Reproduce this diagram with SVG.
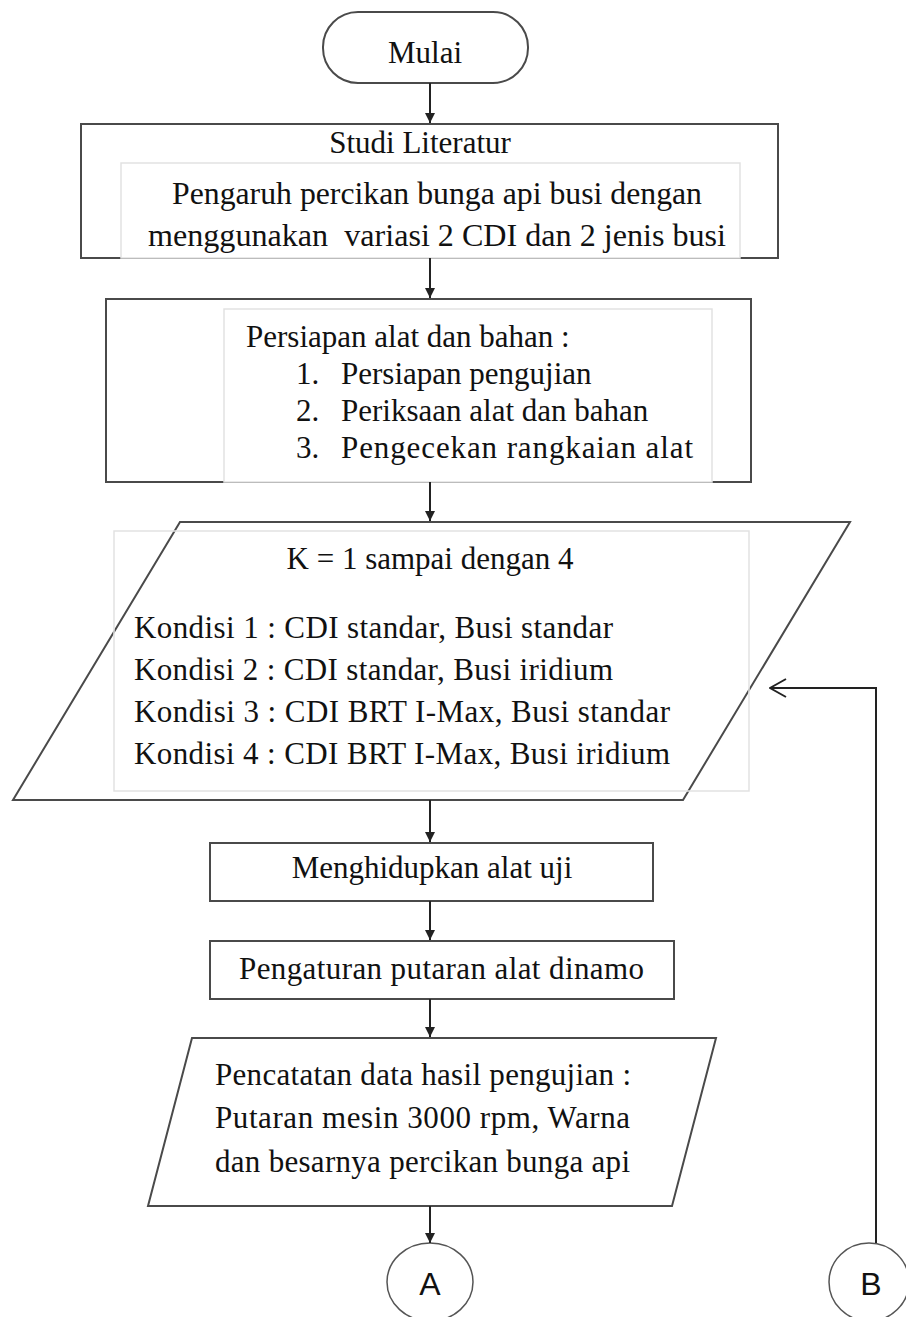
<svg xmlns="http://www.w3.org/2000/svg" width="906" height="1317" viewBox="0 0 906 1317">
  <style>
    .box { fill: #fff; stroke: #4a4a4a; stroke-width: 2; }
    .inner { fill: #fff; stroke: #e2e2e2; stroke-width: 1.5; }
    .t { font-family: "Liberation Serif", "Times New Roman", serif; font-size: 31px; fill: #111; }
    .c { font-family: "Liberation Sans", Arial, sans-serif; font-size: 32px; fill: #111; text-anchor: middle; }
    .mid { text-anchor: middle; }
    .flow { stroke: #222; stroke-width: 2; fill: none; }
  </style>
  <defs>
    <marker id="head" viewBox="0 0 10 10" refX="10" refY="5" markerWidth="10" markerHeight="10" markerUnits="userSpaceOnUse" orient="auto">
      <path d="M0,0 L10,5 L0,10 Z" fill="#222"/>
    </marker>
    <marker id="open" viewBox="0 0 20 20" refX="19" refY="10" markerWidth="20" markerHeight="20" markerUnits="userSpaceOnUse" orient="auto">
      <path d="M3,1 L19,10 L3,19" fill="none" stroke="#222" stroke-width="2"/>
    </marker>
  </defs>

  <!-- start terminator -->
  <g id="mulai">
    <rect class="box" x="323" y="12" width="205" height="71" rx="35" ry="35"/>
    <text class="t mid" x="425" y="63">Mulai</text>
  </g>

  <!-- literature study -->
  <g id="studi-literatur">
    <rect class="box" x="81" y="124" width="697" height="134"/>
    <rect class="inner" x="121" y="163" width="619" height="95"/>
    <text class="t mid" x="420" y="153">Studi Literatur</text>
    <text class="t" x="172" y="204" textLength="530" lengthAdjust="spacingAndGlyphs">Pengaruh percikan bunga api busi dengan</text>
    <text class="t" x="148" y="246" textLength="578" lengthAdjust="spacingAndGlyphs" xml:space="preserve">menggunakan  variasi 2 CDI dan 2 jenis busi</text>
  </g>

  <!-- preparation -->
  <g id="persiapan">
    <rect class="box" x="106" y="299" width="645" height="183"/>
    <rect class="inner" x="224" y="309" width="488" height="173"/>
    <text class="t" x="246" y="347">Persiapan alat dan bahan :</text>
    <text class="t" x="296" y="384">1.</text>
    <text class="t" x="341" y="384">Persiapan pengujian</text>
    <text class="t" x="296" y="421">2.</text>
    <text class="t" x="341" y="421">Periksaan alat dan bahan</text>
    <text class="t" x="296" y="458">3.</text>
    <text class="t" x="341" y="458" textLength="352" lengthAdjust="spacing">Pengecekan rangkaian alat</text>
  </g>

  <!-- loop input -->
  <g id="kondisi">
    <polygon class="box" points="180,522 850,522 683,800 13,800"/>
    <rect class="inner" x="114" y="531" width="635" height="260" style="fill:none"/>
    <text class="t mid" x="430" y="569">K = 1 sampai dengan 4</text>
    <text class="t" x="134" y="638" textLength="479" lengthAdjust="spacing">Kondisi 1 : CDI standar, Busi standar</text>
    <text class="t" x="134" y="680" textLength="479" lengthAdjust="spacing">Kondisi 2 : CDI standar, Busi iridium</text>
    <text class="t" x="134" y="722" textLength="536" lengthAdjust="spacing">Kondisi 3 : CDI BRT I-Max, Busi standar</text>
    <text class="t" x="134" y="764" textLength="536" lengthAdjust="spacing">Kondisi 4 : CDI BRT I-Max, Busi iridium</text>
  </g>

  <!-- process steps -->
  <g id="menghidupkan">
    <rect class="box" x="210" y="843" width="443" height="58"/>
    <text class="t mid" x="432" y="878">Menghidupkan alat uji</text>
  </g>

  <g id="pengaturan">
    <rect class="box" x="210" y="941" width="464" height="58"/>
    <text class="t" x="239" y="979" textLength="405" lengthAdjust="spacing">Pengaturan putaran alat dinamo</text>
  </g>

  <g id="pencatatan">
    <polygon class="box" points="192,1038 716,1038 672,1206 148,1206"/>
    <text class="t" x="215" y="1085" textLength="416" lengthAdjust="spacing">Pencatatan data hasil pengujian :</text>
    <text class="t" x="215" y="1128" textLength="415" lengthAdjust="spacing">Putaran mesin 3000 rpm, Warna</text>
    <text class="t" x="215" y="1172" textLength="415" lengthAdjust="spacing">dan besarnya percikan bunga api</text>
  </g>

  <!-- off-page connectors -->
  <g id="konektor-a">
    <ellipse cx="430" cy="1282" rx="43" ry="39" fill="#fff" stroke="#555" stroke-width="1.5"/>
    <text class="c" x="430" y="1295">A</text>
  </g>
  <g id="konektor-b">
    <ellipse cx="869" cy="1282" rx="40" ry="39" fill="#fff" stroke="#555" stroke-width="1.5"/>
    <text class="c" x="871" y="1295">B</text>
  </g>

  <!-- connectors -->
  <g id="connectors" class="flow">
    <line x1="430" y1="83" x2="430" y2="123" marker-end="url(#head)"/>
    <line x1="430" y1="258" x2="430" y2="298" marker-end="url(#head)"/>
    <line x1="430" y1="482" x2="430" y2="521" marker-end="url(#head)"/>
    <line x1="430" y1="800" x2="430" y2="842" marker-end="url(#head)"/>
    <line x1="430" y1="901" x2="430" y2="940" marker-end="url(#head)"/>
    <line x1="430" y1="999" x2="430" y2="1037" marker-end="url(#head)"/>
    <line x1="430" y1="1206" x2="430" y2="1243" marker-end="url(#head)"/>
    <polyline points="876,1243 876,688 770,688" marker-end="url(#open)"/>
  </g>
</svg>
